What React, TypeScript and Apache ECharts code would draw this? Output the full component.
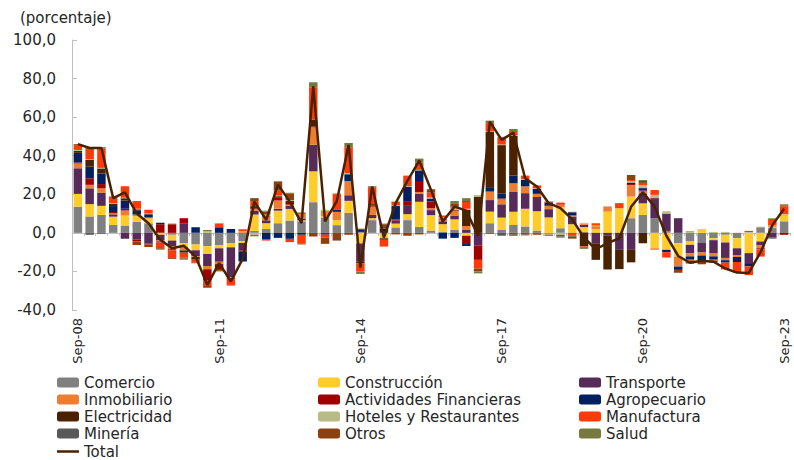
import React, { useEffect, useRef } from "react";
import * as echarts from "echarts";

const months = ["Mar", "Jun", "Sep", "Dic"];
const categories: string[] = [];
for (let y = 2008; y <= 2023; y++) {
  for (let q = 0; q < 4; q++) {
    if (y === 2008 && q < 2) continue;
    if (y === 2023 && q > 2) continue;
    categories.push(months[q] + "-" + String(y).slice(2));
  }
}

const comercio = [13.6, 8.5, 9.3, 4.1, 3.8, 5.7, 5, 0, -1, -5.4, -6, -7, -6.5, -5.5, -4.3, 1, 2, 5, 6.4, 6, 15.9, 8, 4, 10.4, 0.5, 6.6, 0, 2.8, 6.6, 3.1, 1.2, 0.5, 1.5, 0, 0, 5, 1.5, 4.1, 3.3, 1.2, -0.5, 2.4, 0, 0.5, 0, 0, 0, 7.6, 9.3, 7.6, 1, -5.4, -4.5, -5, -2.8, -1, -2.8, 0, 2.9, 2.5, 6];
const construccion = [6.6, 6.4, 4.7, 4.3, 5.2, 3, 2.5, -1, -3, -1.7, -3, -4, -1.5, -2, -1, 8.5, 3, 6.5, 6, 0.5, 16, 0.5, 2.6, 6.2, -5.5, 1, -2.8, 2, 3.1, 13, 8, 4, 5.5, -1.5, 0, 6, 6.4, 6.9, 9.2, 10, 8, 11, 4.5, 2.5, 2, 11, 12.8, 11.2, 6, -8, -8.8, -6.9, -1.7, 2, -1, -4, -5.2, -10.5, -4.5, 0.5, 3];
const transporte = [13.3, 8.2, 6.9, 1.2, -3.1, -3.5, -5.5, -3, -3, 5, -3, -6.2, -7, -15.5, -4, 2, 1.5, 1, 1.7, 1, 13.8, -1, 0, 2.9, -9.5, 1.7, 0.5, 1.7, 4.7, 4.3, 2.6, 1.5, 2, 1.5, -6.5, 6, 6.9, 10.4, 8.1, 7.4, 4.3, 0, 4, 1.2, -5.4, -1.5, -8.8, -8.8, 5.2, 9.5, 9, 7.6, -4.3, -5.2, -6.9, -8, -3.5, -5.2, -2, -2.5, 0];
const inmobiliario = [2.5, 1.8, 2.2, 0.5, 2.6, 0.8, 0.5, -0.5, -1.5, -2, -0.5, -1.7, -1.2, -0.5, 0.5, 1, 2, 4.3, 0.5, 2.5, 9, 3, 4.3, 7.4, 0, 4.3, 0, 0, 0, 0.8, 1, 1, 2.5, 2, 0, 4.3, 2.6, 4.3, 3.5, 1.5, 1.5, 1, 0.5, 0.5, 1.5, 2.6, 0, 6, 1, -0.8, 0, -5.2, -1.7, -1.5, -1.5, -1.2, -1, 0, -1.5, 0.5, 0.5];
const financieras = [0.5, 3.4, 2.2, 0.7, 0.9, -1, -0.5, 4.5, 4.5, 2.6, -0.5, -5.5, -3, -0.5, -0.5, 1, 0.5, 1.7, 1.4, 0.3, 0.5, 0, 0, 0, 0, 0.5, 0, 0.5, 1.7, 5.2, 3.5, 0.5, 0.5, -4.3, -7.5, 0.3, 0.5, 0, 0, 0.5, 0.3, 0.3, 0, 0, 0, 0, 0, 0.5, 0.5, 0.8, 0, 0, 0, -0.3, 0, 0, 0, 0, -0.5, 0, -1];
const agropecuario = [5, 6, 5.5, 3.1, 4.3, 2.2, 1.5, 0.8, 0, 0, 2.9, 0, 2.9, 2, -5, 0, -3.5, -2.6, -3.1, -1, 0, 0, 1.2, 3.5, 1.4, 0, 1.7, 6.9, 7.8, 6, 1.5, -3, -2.6, -1, 0, 1.7, 2.6, 4, 3.5, 2.2, 1.7, 0, 1.7, 0, 0, 0, 0, 0.8, 1.2, 0.3, -1.2, -1.7, -1.7, -2.2, -1.7, -1.2, -2.6, -1.7, 0, 0, 0];
const electricidad = [1, 3.5, 2.6, 1.2, 1.2, 0.5, 0.3, -0.5, -0.5, -1.2, -0.5, 0, 0, 0, 0, 0.5, 0, 0.5, 0.5, 0, 3.5, 0, 0, 0, -0.8, 0.8, -0.8, 0, 0, 0, 0, 0, 0, 8.5, 18.8, 29, 25, 20.6, 0, 0, 0, 0, 0, -7, -8.6, -17.5, -10, -6.5, -5.4, 0, 0, 0, 0, 0, 0, 0, 0, 0, 0, 0, 0];
const hoteles = [0.5, 0.3, 0.3, 0.3, 0.2, 0.3, 0.2, 0, 0.5, 0, 0, 0.8, 0, 0, 0.3, -1, 0.5, 0.3, 0.5, 0.3, 0, 0.5, 0, 0.5, 0.5, 0, 0, 0.3, 0.3, 0.3, 0.5, 0.5, 1, 0.5, 0.8, 0.3, 0.3, 0.3, 0.3, 0.3, -0.5, -1, 0.3, 0.5, 0.3, 0.3, 0, 0.8, 1.5, 1.5, 1.2, 0, 0.5, 0, 0.5, 0.5, 0, 0.5, 0.3, 0.3, 0.3];
const manufactura = [2.5, 5.5, 10, 3.3, 6, 4, 2, -3, -4, -2.6, -2, -3.2, 2, -3, 1, 2.5, -0.5, 2.6, -1.7, -4.5, 16.8, -1.5, 8, 13.5, -4.3, 8.6, -3.5, 2, 5.5, 3.8, 2.6, 1, 0.5, 3.5, -4.5, 4.3, 3.5, 2.2, 1.8, 1.5, 0.5, 1, -1.5, -0.8, 1, 0, 2.6, 0.5, 1.2, 2.5, -2.8, 0, -0.5, -0.8, -0.5, -3.6, -5.5, -4.5, -3.8, 3.5, 4];
const mineria = [0, -1, -0.5, 0, 0, 0, 0, 0, 0, 0, 0, 0, 0, 0, 0, 0, 0, 0, 0, 0, 0, 0, 0, 0, 0, 0, 0, 0, 0, 0, 0, 0, 0, 0, 0, 0, -1.5, -1, -0.8, -0.5, 0, -1, -0.5, 0, 0, 0, 0, 0, 0, 0, 0, 0, 0, 0, 0, 0, 0, 0, 0, -0.5, 0];
const otros = [0.5, 0.5, 0.5, 0.2, 0, -1.8, -1.3, -0.5, -0.5, -0.5, -0.3, -0.8, -0.5, -0.3, 0, 1.5, 1.5, 4.8, 3.5, -0.5, -1.9, -3.2, -4, -1, 0, 0.5, 2.3, -0.8, -1.5, -0.8, 1.7, 0, 1.5, 0.5, -1.5, -0.5, 0, -0.5, -0.5, -0.5, -0.5, 0, -1, 0, 0, 0, 0, 2.6, 1, 0, 0, -1.5, -1.5, -1.3, -1, 0, 0, 0.5, 0, 0, 0.5];
const salud = [0, 0.3, 0.3, 0, 0, 0, 0, -0.3, 0, -0.5, 0, 0.7, -0.3, 0, 0.2, -0.8, 0.5, 0, 0.3, 0.2, 2.6, 0, 0.3, 2.2, -1.2, 0.3, 0.3, 0, 0, 2, 0, 0, 1.5, 1.5, -1, 1.3, 0.5, 1, 0, 0, 0, -0.5, 0, -0.5, 0.3, 0, 0, 0, 0.5, 0, 0, 0, 0.3, 0, 0, 0, 0, 0, 0, 0.3, 0.5];
const total = [46, 44, 44, 18, 21, 10, 5, -3.6, -8, -6.7, -12.3, -27, -15.7, -25.2, -13.5, 16.2, 6.7, 25, 16.2, 5, 76, 5.9, 16.5, 45.6, -18, 24, -2.5, 15.4, 27, 37.5, 22.3, 5.9, 13.6, 11.5, -1.5, 57.7, 48.2, 52, 28.3, 24, 15.4, 12.8, 7, -2.5, -8.5, -5.3, -2.8, 13.5, 21, 13.6, -1.5, -12, -15.5, -14.5, -15, -18.5, -20.6, -20.8, -10, 4, 12.5];

const barSeries: { name: string; data: number[]; color: string }[] = [
  { name: "Comercio", data: comercio, color: "#808080" },
  { name: "Construcción", data: construccion, color: "#FFCC29" },
  { name: "Transporte", data: transporte, color: "#582A5A" },
  { name: "Inmobiliario", data: inmobiliario, color: "#ED7D31" },
  { name: "Actividades Financieras", data: financieras, color: "#A00000" },
  { name: "Agropecuario", data: agropecuario, color: "#002060" },
  { name: "Electricidad", data: electricidad, color: "#4A2200" },
  { name: "Hoteles y Restaurantes", data: hoteles, color: "#B8BB85" },
  { name: "Manufactura", data: manufactura, color: "#FF3A0A" },
  { name: "Minería", data: mineria, color: "#595959" },
  { name: "Otros", data: otros, color: "#8C4210" },
  { name: "Salud", data: salud, color: "#767A3E" },
];

const FONT = "DejaVu Sans";
const TEXT = "#262626";

export default function App() {
  const ref = useRef<HTMLDivElement>(null);
  useEffect(() => {
    document.body.style.margin = "0";
    if (!ref.current) return;
    const chart = echarts.init(ref.current, undefined, { renderer: "svg" });
    const legendText = { fontFamily: FONT, fontSize: 15, color: TEXT, lineHeight: 17 };
    const legendBase = {
      orient: "vertical" as const,
      top: 374,
      itemWidth: 22,
      itemHeight: 10,
      itemGap: 0,
      textStyle: legendText,
      selectedMode: false,
      padding: 0,
    };
    chart.setOption({
      animation: false,
      textStyle: { fontFamily: FONT },
      grid: { left: 72, right: 4, top: 40, bottom: 150, containLabel: false },
      graphic: [
        {
          type: "text",
          left: 20,
          top: 10,
          style: { text: "(porcentaje)", font: `15px "${FONT}"`, fill: TEXT },
        },
      ],
      legend: [
        { ...legendBase, left: 57, data: ["Comercio", "Inmobiliario", "Electricidad", "Minería"] },
        { ...legendBase, left: 318, data: ["Construcción", "Actividades Financieras", "Hoteles y Restaurantes", "Otros"] },
        { ...legendBase, left: 579, data: ["Transporte", "Agropecuario", "Manufactura", "Salud"] },
        {
          ...legendBase,
          top: 444,
          left: 57,
          itemHeight: 2.5,
          icon: "rect",
          textStyle: { ...legendText, lineHeight: 13 },
          data: ["Total"],
        },
      ],
      xAxis: [
        {
          type: "category",
          data: categories,
          position: "bottom",
          axisLine: { show: false, onZero: false },
          axisTick: { show: false },
          axisLabel: {
            interval: 11,
            rotate: 90,
            margin: 8,
            fontFamily: FONT,
            fontSize: 13,
            color: TEXT,
          },
        },
        {
          type: "category",
          data: categories,
          position: "bottom",
          axisLine: { show: true, onZero: true, lineStyle: { color: "#BFBFBF", width: 1 } },
          axisTick: { show: true, interval: 0, length: 3, lineStyle: { color: "#BFBFBF" } },
          axisLabel: { show: false },
        },
      ],
      yAxis: {
        type: "value",
        min: -40,
        max: 100,
        interval: 20,
        splitLine: { show: false },
        axisLine: { show: true, lineStyle: { color: "#BFBFBF" } },
        axisTick: { show: true, inside: true, length: 5, lineStyle: { color: "#BFBFBF" } },
        axisLabel: {
          margin: 16,
          fontFamily: FONT,
          fontSize: 15,
          color: TEXT,
          formatter: (v: number) => v.toFixed(1).replace(".", ","),
        },
      },
      series: [
        ...barSeries.map((s) => ({
          name: s.name,
          type: "bar",
          stack: "total",
          xAxisIndex: 0,
          barCategoryGap: "28%",
          data: s.data,
          itemStyle: { color: s.color },
        })),
        {
          name: "Total",
          type: "line",
          xAxisIndex: 0,
          data: total,
          symbol: "none",
          lineStyle: { color: "#4A2200", width: 2.5 },
          itemStyle: { color: "#4A2200" },
          z: 10,
        },
      ],
    });
    return () => chart.dispose();
  }, []);
  return <div ref={ref} style={{ width: 794, height: 460 }} />;
}
